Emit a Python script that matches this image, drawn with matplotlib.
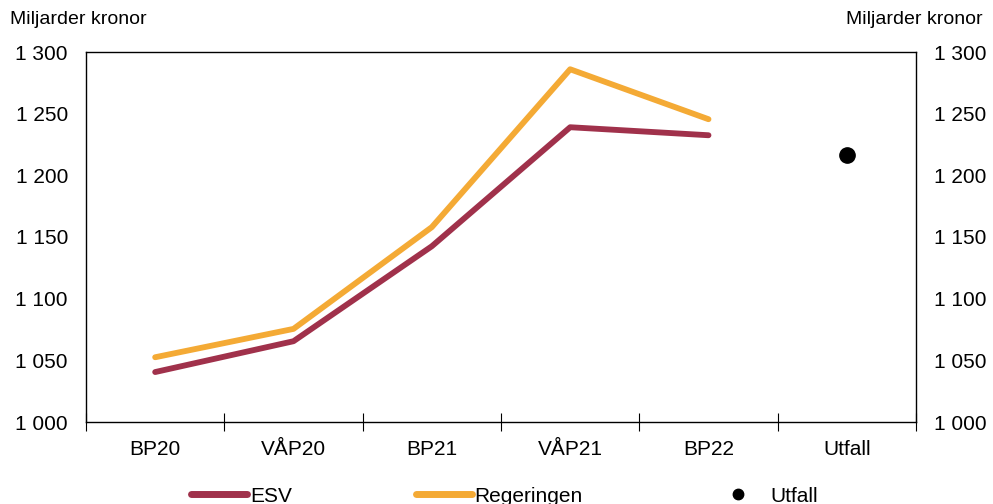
import matplotlib.pyplot as plt
from matplotlib.lines import Line2D
from matplotlib.ticker import FuncFormatter, FixedLocator

plt.rcParams['font.family'] = ['Liberation Sans', 'DejaVu Sans']

categories = ['BP20', 'VÅP20', 'BP21', 'VÅP21', 'BP22', 'Utfall']
esv = [1040.5, 1065.5, 1142.5, 1239, 1232.5]
regeringen = [1052.5, 1075.5, 1158, 1286, 1245.5]
utfall = 1216.5

ESV_COLOR = '#a0314b'
REG_COLOR = '#f4aa35'

fig = plt.figure(figsize=(9.93, 5.04), dpi=100)
ax = fig.add_axes([86 / 993, 1 - 422 / 504, 830 / 993, 370 / 504])

x = list(range(len(categories)))
ax.plot(x[:5], esv, color=ESV_COLOR, lw=4.2, solid_capstyle='round')
ax.plot(x[:5], regeringen, color=REG_COLOR, lw=4.2, solid_capstyle='round')
ax.plot([x[5]], [utfall], 'o', color='black', ms=11)

ax.set_xlim(-0.5, 5.5)
ax.set_ylim(1000, 1300)
ax.set_yticks(range(1000, 1301, 50))
fmt = FuncFormatter(lambda v, p: f'{int(v):,}'.replace(',', ' '))
ax.yaxis.set_major_formatter(fmt)
ax.tick_params(axis='y', length=0, labelsize=15, pad=13,
               right=False, labelright=True)

# category labels centred, tick marks between categories
ax.set_xticks(x)
ax.set_xticklabels(categories)
ax.tick_params(axis='x', which='major', length=0, labelsize=15, pad=13)
ax.xaxis.set_minor_locator(FixedLocator([-0.5, 0.5, 1.5, 2.5, 3.5, 4.5, 5.5]))
ax.tick_params(axis='x', which='minor', direction='inout', length=13, width=0.8)

for s in ax.spines.values():
    s.set_linewidth(1.0)

fig.text(10 / 993, 1 - 20 / 504, 'Miljarder kronor', fontsize=14, va='center', ha='left')
fig.text(983 / 993, 1 - 20 / 504, 'Miljarder kronor', fontsize=14, va='center', ha='right')

# separate legend entries spread along the bottom
entries = [
    (Line2D([], [], color=ESV_COLOR, lw=5, solid_capstyle='round'), 'ESV', 191, 0.12),
    (Line2D([], [], color=REG_COLOR, lw=5, solid_capstyle='round'), 'Regeringen', 416, 0.12),
    (Line2D([], [], color='black', marker='o', ls='none', ms=7.5), 'Utfall', 710, 0.2),
]
for handle, label, xpx, pad in entries:
    fig.legend([handle], [label], loc='center left',
               bbox_to_anchor=(xpx / 993, 1 - 496 / 504), frameon=False,
               fontsize=15, handlelength=2.7, handletextpad=pad,
               borderpad=0, borderaxespad=0)

fig.savefig('out.png', dpi=100)
